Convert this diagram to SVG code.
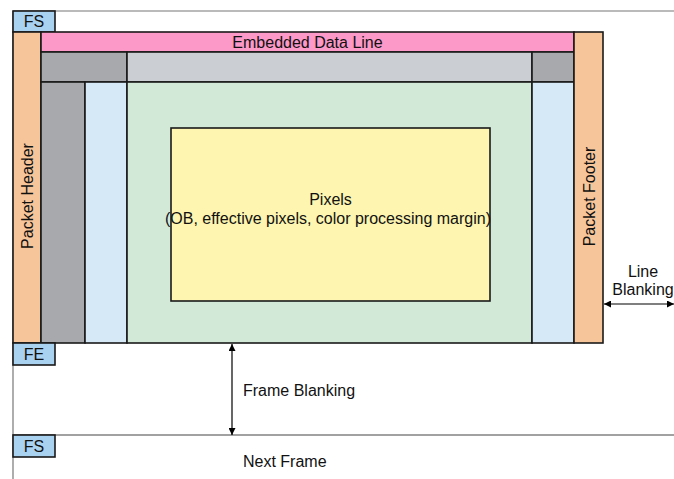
<svg xmlns="http://www.w3.org/2000/svg" width="674" height="479" viewBox="0 0 674 479">
  <defs>
    <marker id="arr" viewBox="0 0 10 10" refX="10" refY="5" markerWidth="7" markerHeight="7" orient="auto-start-reverse" markerUnits="userSpaceOnUse">
      <path d="M0,0 L10,5 L0,10 z" fill="#000"/>
    </marker>
    <style>
      .b { stroke: #1a1a1a; stroke-width: 1.6; }
      .t { font-family: "Liberation Sans", Arial, sans-serif; font-size: 16px; fill: #111; }
      .frame { stroke: #777; stroke-width: 1.2; fill: none; }
      .tag { fill: #a9d1f0; }
    </style>
  </defs>
  <rect width="674" height="479" fill="#fff"/>

  <!-- frame guide lines -->
  <g id="guides">
    <line class="frame" x1="13" y1="11" x2="674" y2="11"/>
    <line class="frame" x1="13" y1="11" x2="13" y2="479"/>
    <line x1="13" y1="435" x2="674" y2="435" stroke="#444" stroke-width="1.2"/>
  </g>

  <g id="fs-top">
    <rect class="b tag" x="13" y="11" width="42" height="21"/>
    <text class="t" x="34" y="27" text-anchor="middle">FS</text>
  </g>

  <g id="packet-header">
    <rect class="b" x="13" y="32" width="28" height="311" fill="#f7c59a"/>
    <text class="t" transform="translate(33,196) rotate(-90)" text-anchor="middle">Packet Header</text>
  </g>

  <g id="embedded-data">
    <rect class="b" x="41" y="32" width="533" height="20" fill="#fd99c9"/>
    <text class="t" x="307.5" y="48" text-anchor="middle">Embedded Data Line</text>
  </g>

  <g id="ob-row">
    <rect class="b" x="41" y="52" width="86" height="30" fill="#a7a9ac"/>
    <rect class="b" x="127" y="52" width="405" height="30" fill="#cbced2"/>
    <rect class="b" x="532" y="52" width="42" height="30" fill="#a7a9ac"/>
  </g>

  <g id="ob-column">
    <rect class="b" x="41" y="82" width="44" height="261" fill="#a7a9ac"/>
  </g>

  <g id="margin-left">
    <rect class="b" x="85" y="82" width="42" height="261" fill="#d5eaf6"/>
  </g>

  <g id="active-area">
    <rect class="b" x="127" y="82" width="405" height="261" fill="#d3e9d8"/>
  </g>

  <g id="margin-right">
    <rect class="b" x="532" y="82" width="42" height="261" fill="#d5eaf6"/>
  </g>

  <g id="pixels">
    <rect class="b" x="171" y="128" width="319" height="173" fill="#fdf5b0"/>
    <text class="t" x="330.5" y="205" text-anchor="middle">Pixels</text>
    <text class="t" x="328" y="224" text-anchor="middle">(OB, effective pixels, color processing margin)</text>
  </g>

  <g id="packet-footer">
    <rect class="b" x="574" y="32" width="29" height="311" fill="#f7c59a"/>
    <text class="t" transform="translate(595,196.5) rotate(-90)" text-anchor="middle">Packet Footer</text>
  </g>

  <g id="fe">
    <rect class="b tag" x="13" y="343" width="42" height="22"/>
    <text class="t" x="34" y="360" text-anchor="middle">FE</text>
  </g>

  <g id="fs-next">
    <rect class="b tag" x="13" y="435" width="42" height="22"/>
    <text class="t" x="34" y="452" text-anchor="middle">FS</text>
  </g>

  <!-- blanking dimension arrows -->
  <g id="connectors">
    <line x1="232" y1="344" x2="232" y2="435" stroke="#000" stroke-width="1.2" marker-start="url(#arr)" marker-end="url(#arr)"/>
    <line x1="604" y1="304" x2="674" y2="304" stroke="#555" stroke-width="1.6" marker-start="url(#arr)" marker-end="url(#arr)"/>
  </g>

  <g id="labels">
    <text class="t" x="243" y="396">Frame Blanking</text>
    <text class="t" x="243" y="467">Next Frame</text>
    <text class="t" x="643" y="277" text-anchor="middle">Line</text>
    <text class="t" x="643" y="295" text-anchor="middle">Blanking</text>
  </g>
</svg>
